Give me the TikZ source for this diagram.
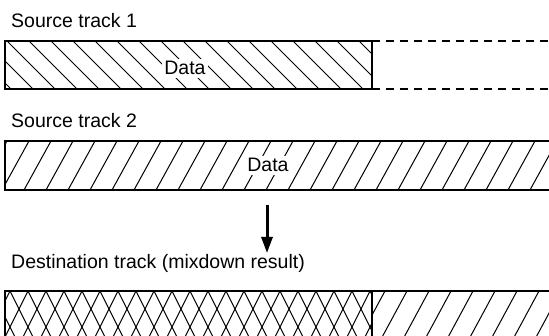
\documentclass[tikz,border=0pt]{standalone}
\usepackage{fontspec}
\setmainfont{Liberation Sans}
\usetikzlibrary{arrows.meta}
\begin{document}
\begin{tikzpicture}[x=1pt,y=-1pt,
  border/.style={line width=2pt},
  hatchline/.style={line width=1pt},
  label/.style={anchor=base west,inner sep=0pt,font=\fontsize{19.5}{22}\selectfont},
  datalabel/.style={anchor=base,fill=white,inner sep=2.5pt,font=\fontsize{19.5}{22}\selectfont},
  dashline/.style={line width=1.5pt,dash pattern=on 8pt off 6pt}]
\useasboundingbox (0,0) rectangle (549,336);
% Track 1
\begin{scope}
  \clip (5,41) rectangle (372,89);
  \foreach \k in {-3,...,17} \draw[hatchline] ({7+22*\k},41) -- ({55+22*\k},89);
\end{scope}
\draw[border] (5,41) rectangle (372,89);
\coordinate (t1a) at (372,41);
\coordinate (t1b) at (372,89);
\coordinate (t1c) at (549,41);
\coordinate (t1d) at (549,89);
\draw[dashline] (t1a) -- (t1c);
\draw[dashline] (t1b) -- (t1d);
\node[label] (l1) at (11,28) {Source track 1};
\node[datalabel] (d1) at (185,75) {Data};
% Track 2
\begin{scope}
  \clip (5,141) rectangle (549,190);
  \foreach \k in {-6,...,26} \draw[hatchline] ({442-22*\k},190) -- ({469-22*\k},141);
\end{scope}
\draw[border] (549,141) -- (5,141) -- (5,190) -- (549,190);
\node[label] (l2) at (11,128) {Source track 2};
\node[datalabel] (d2) at (268,172) {Data};
% Arrow
\coordinate (a1) at (267,205);
\coordinate (a2) at (267,253);
\draw[line width=3pt,-{Triangle[length=16pt,width=11pt]}] (a1) -- (a2);
% Destination
\node[label] (l3) at (11,269) {Destination track (mixdown result)};
\begin{scope}
  \clip (5,291) rectangle (372,340);
  \foreach \k in {-3,...,22} {
    \draw[hatchline] ({10+18*\k},291) -- ({35+18*\k},341);
    \draw[hatchline] ({10+18*\k},291) -- ({-15+18*\k},341);
  }
\end{scope}
\begin{scope}
  \clip (372,291) rectangle (549,340);
  \foreach \k in {-2,...,10} \draw[hatchline] ({380+22*\k},341) -- ({407+22*\k},291);
\end{scope}
\draw[border] (5,340) -- (5,291) -- (549,291);
\draw[border] (372,291) -- (372,340);
\end{tikzpicture}
\end{document}
